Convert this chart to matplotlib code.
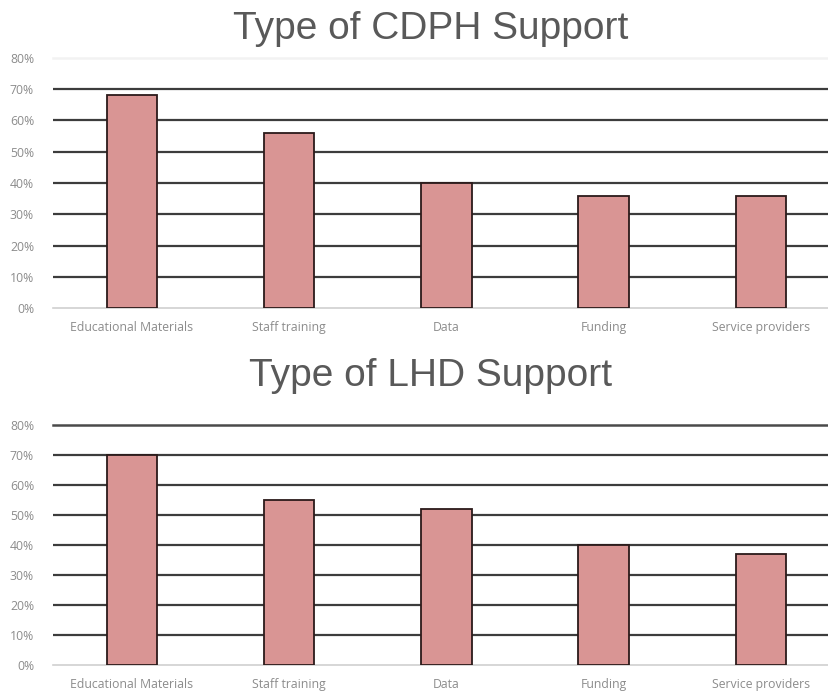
import matplotlib
matplotlib.use("Agg")
import matplotlib.pyplot as plt
from matplotlib.ticker import PercentFormatter

# ---- DATA ----
categories = ['Educational Materials', 'Staff training', 'Data', 'Funding', 'Service providers']
cdph_support = [68, 56, 40, 36, 36]
lhd_support = [70, 55, 52, 40, 37]
y_ticks = [0, 10, 20, 30, 40, 50, 60, 70, 80]

# ---- STYLE ----
bar_color = '#d99594'
edge_color = '#2b1a1a'
grid_color = '#3c3c3c'
text_gray = '#595959'
tick_gray = '#8c8c8c'

fig = plt.figure(figsize=(8.29, 6.92), dpi=100)

# axes boxes in figure fractions; the right edge runs past the figure like the slide crop
ax_top = fig.add_axes([0.0645, 0.5549, 0.948, 0.3613])
ax_bot = fig.add_axes([0.0645, 0.0390, 0.948, 0.3468])


def draw_panel(ax, values, title, title_y, top_line_color):
    x = range(len(categories))
    ax.set_xlim(-0.5, len(categories) - 0.5)
    ax.set_ylim(0, 80)
    for t in y_ticks[1:-1]:
        ax.axhline(t, color=grid_color, lw=1.6, zorder=1)
    ax.axhline(80, color=top_line_color, lw=1.8, zorder=1, clip_on=False)
    ax.axhline(0, color='#d0d0d0', lw=1.2, zorder=1, clip_on=False)
    ax.bar(x, values, width=0.32, color=bar_color, edgecolor=edge_color,
           linewidth=1.3, zorder=3)
    ax.set_yticks(y_ticks)
    ax.yaxis.set_major_formatter(PercentFormatter(decimals=0))
    ax.set_xticks(list(x))
    ax.set_xticklabels(categories)
    ax.tick_params(axis='both', length=0, labelsize=8.8, labelcolor=tick_gray)
    ax.tick_params(axis='x', pad=9)
    ax.tick_params(axis='y', pad=14)
    for lbl in ax.get_xticklabels() + ax.get_yticklabels():
        lbl.set_fontfamily('Open Sans')
    for s in ax.spines.values():
        s.set_visible(False)
    fig.text(0.519, title_y, title, ha='center', va='center',
             fontsize=28, color=text_gray, family='Liberation Sans')


draw_panel(ax_top, cdph_support, 'Type of CDPH Support', 0.958, '#f2f2f2')
draw_panel(ax_bot, lhd_support, 'Type of LHD Support', 0.457, '#4a4a4a')

fig.savefig('out.png', dpi=100)
